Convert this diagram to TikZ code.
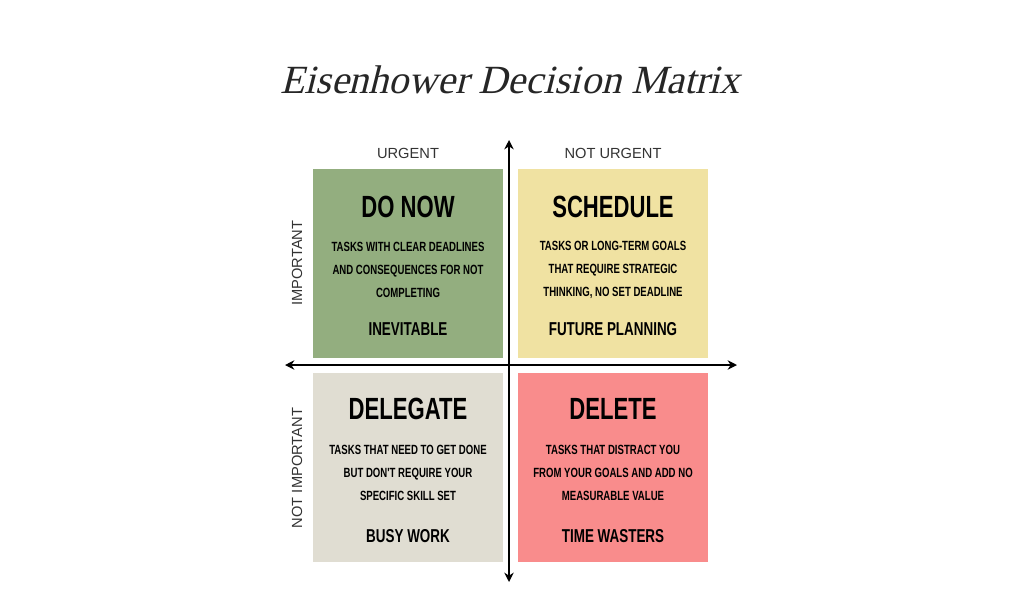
\documentclass[tikz,border=0pt]{standalone}
\usepackage{fontspec}
\setmainfont{Liberation Sans}
\newfontfamily\cond{Liberation Sans}[FakeStretch=0.72]
\newfontfamily\ttl{Liberation Serif}[FakeSlant=0.25]
\usetikzlibrary{arrows.meta}
\definecolor{qgreen}{HTML}{93AE7F}
\definecolor{qyellow}{HTML}{F0E2A2}
\definecolor{qgray}{HTML}{E0DDD2}
\definecolor{qred}{HTML}{F98C8C}
\begin{document}
\begin{tikzpicture}[x=0.75pt,y=-0.75pt,
  box/.style={minimum width=142.5pt,minimum height=141.75pt,draw=none,inner sep=0},
  head/.style={font=\cond\bfseries\fontsize{23}{25}\selectfont},
  body/.style={font=\cond\bfseries\fontsize{10}{17}\selectfont,align=center},
  tag/.style={font=\cond\bfseries\fontsize{14}{16}\selectfont},
  axl/.style={font=\fontsize{11}{12}\selectfont,text=black!80},
  ax/.style={line width=1.5pt,{Stealth[length=7pt,width=7pt]}-{Stealth[length=7pt,width=7pt]}}]
\useasboundingbox (0,0) rectangle (1020,600);
\fill[white] (0,0) rectangle (1020,600);
\node[font=\ttl\fontsize{30}{32}\selectfont,text=black!85] (title) at (510,80) {Eisenhower Decision Matrix};
\node[box,fill=qgreen,anchor=north west] (q1) at (313,169) {};
\node[box,fill=qyellow,anchor=north west] (q2) at (518,169) {};
\node[box,fill=qgray,anchor=north west] (q3) at (313,373) {};
\node[box,fill=qred,anchor=north west] (q4) at (518,373) {};
\coordinate (vt) at (509,140); \coordinate (vb) at (509,582);
\coordinate (hl) at (285,365); \coordinate (hr) at (737,365);
\draw[ax] (vt) -- (vb);
\draw[ax] (hl) -- (hr);
\node[axl] (u) at (408,153) {URGENT};
\node[axl] (nu) at (613,153) {NOT URGENT};
\node[axl,rotate=90] (im) at (297,263) {IMPORTANT};
\node[axl,rotate=90] (nim) at (297,468) {NOT IMPORTANT};
\node[head] (h1) at (408,207) {DO NOW};
\node[body] (b1) at (408,270) {TASKS WITH CLEAR DEADLINES\\AND CONSEQUENCES FOR NOT\\COMPLETING};
\node[tag] (t1) at (408,329) {INEVITABLE};
\node[head] (h2) at (613,207) {SCHEDULE};
\node[body] (b2) at (613,270) {TASKS OR LONG-TERM GOALS\\THAT REQUIRE STRATEGIC\\THINKING, NO SET DEADLINE};
\node[tag] (t2) at (613,329) {FUTURE PLANNING};
\node[head] (h3) at (408,409) {DELEGATE};
\node[body] (b3) at (408,473) {TASKS THAT NEED TO GET DONE\\BUT DON'T REQUIRE YOUR\\SPECIFIC SKILL SET};
\node[tag] (t3) at (408,536) {BUSY WORK};
\node[head] (h4) at (613,409) {DELETE};
\node[body] (b4) at (613,473) {TASKS THAT DISTRACT YOU\\FROM YOUR GOALS AND ADD NO\\MEASURABLE VALUE};
\node[tag] (t4) at (613,536) {TIME WASTERS};
\end{tikzpicture}
\end{document}
